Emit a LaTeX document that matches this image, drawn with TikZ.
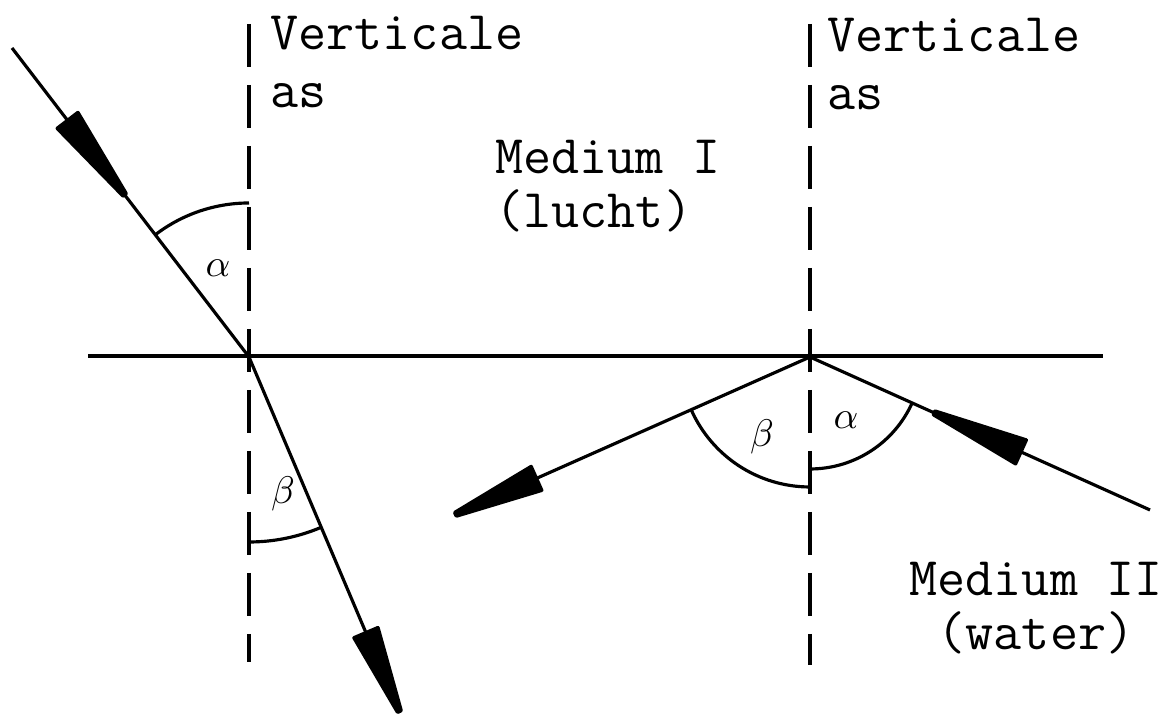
\documentclass[tikz,border=0pt]{standalone}
\usepackage{fontspec}
\usepackage{tikz}
\usetikzlibrary{calc}

\tikzset{
  ray/.style={line width=0.9pt},
  normal/.style={line width=0.9pt, dash pattern=on 0.43cm off 0.18cm},
  angarc/.style={line width=0.9pt},
  lbl/.style={font=\fontsize{15.5}{16.5}\selectfont\ttfamily, inner sep=0pt},
  ang/.style={font=\fontsize{11}{13}\selectfont, inner sep=0pt}
}
\newcommand{\wedgehead}[2]{%
  \fill[rounded corners=0.6pt] ($(#1)!0.15cm!90:(#2)$) -- ($(#2)!0.035cm!-90:(#1)$)
    -- ($(#2)!0.035cm!90:(#1)$) -- ($(#1)!0.15cm!-90:(#2)$) -- cycle;}

\begin{document}
\begin{tikzpicture}
\useasboundingbox (0,0) rectangle (11.72,7.2);

\coordinate (P1) at (2.49,3.63);
\coordinate (P2) at (8.10,3.63);
\coordinate (S1) at (0.12,6.72);
\coordinate (E1) at (4.00,0.07);
\coordinate (S2) at (11.50,2.10);
\coordinate (E2) at (4.54,2.05);

% grensvlak en normalen
\draw[ray] (0.88,3.64) coordinate (GL) -- (11.03,3.64) coordinate (GR);
\draw[normal] (2.49,6.96) coordinate (N1t) -- (2.49,0.58) coordinate (N1b);
\draw[normal] (8.10,6.96) coordinate (N2t) -- (8.10,0.55) coordinate (N2b);

% stralen
\draw[ray] (S1) -- (P1) -- (E1);
\draw[ray] (S2) -- (P2) -- (E2);

\coordinate (W1a) at ($(S1)!0.23!(P1)$);
\coordinate (W1b) at ($(S1)!0.48!(P1)$);
\coordinate (W2a) at ($(P1)!0.77!(E1)$);
\coordinate (W3a) at ($(S2)!0.375!(P2)$);
\coordinate (W3b) at ($(S2)!0.64!(P2)$);
\coordinate (W4a) at ($(P2)!0.764!(E2)$);
\wedgehead{W1a}{W1b}
\wedgehead{W2a}{E1}
\wedgehead{W3a}{W3b}
\wedgehead{W4a}{E2}

% hoeken
\draw[angarc] ($(P1)+(90:1.54)$) arc[start angle=90, end angle=127.4, radius=1.54];
\draw[angarc] ($(P1)+(270:1.85)$) arc[start angle=270, end angle=293, radius=1.85];
\draw[angarc] ($(P2)+(270:1.30)$) arc[start angle=270, end angle=203.9, radius=1.30];
\draw[angarc] ($(P2)+(270:1.12)$) arc[start angle=270, end angle=335.8, radius=1.12];

\node[ang] (a1) at (2.18,4.52) {$\alpha$};
\node[ang] (b1) at (2.83,2.26) {$\beta$};
\node[ang] (b2) at (7.62,2.83) {$\beta$};
\node[ang] (a2) at (8.46,3.00) {$\alpha$};

\node[lbl, anchor=base west, align=left] (vas1) at (2.70,6.12) {Verticale\\as};
\node[lbl, anchor=base west, align=left] (vas2) at (8.27,6.10) {Verticale\\as};
\node[lbl, anchor=base west, align=left] (med1) at (4.95,4.92) {Medium I\\[-0.9pt](lucht)};
\node[lbl, anchor=base, align=center] (med2) at (10.36,0.70) {Medium II\\[-0.9pt](water)};

\end{tikzpicture}
\end{document}
